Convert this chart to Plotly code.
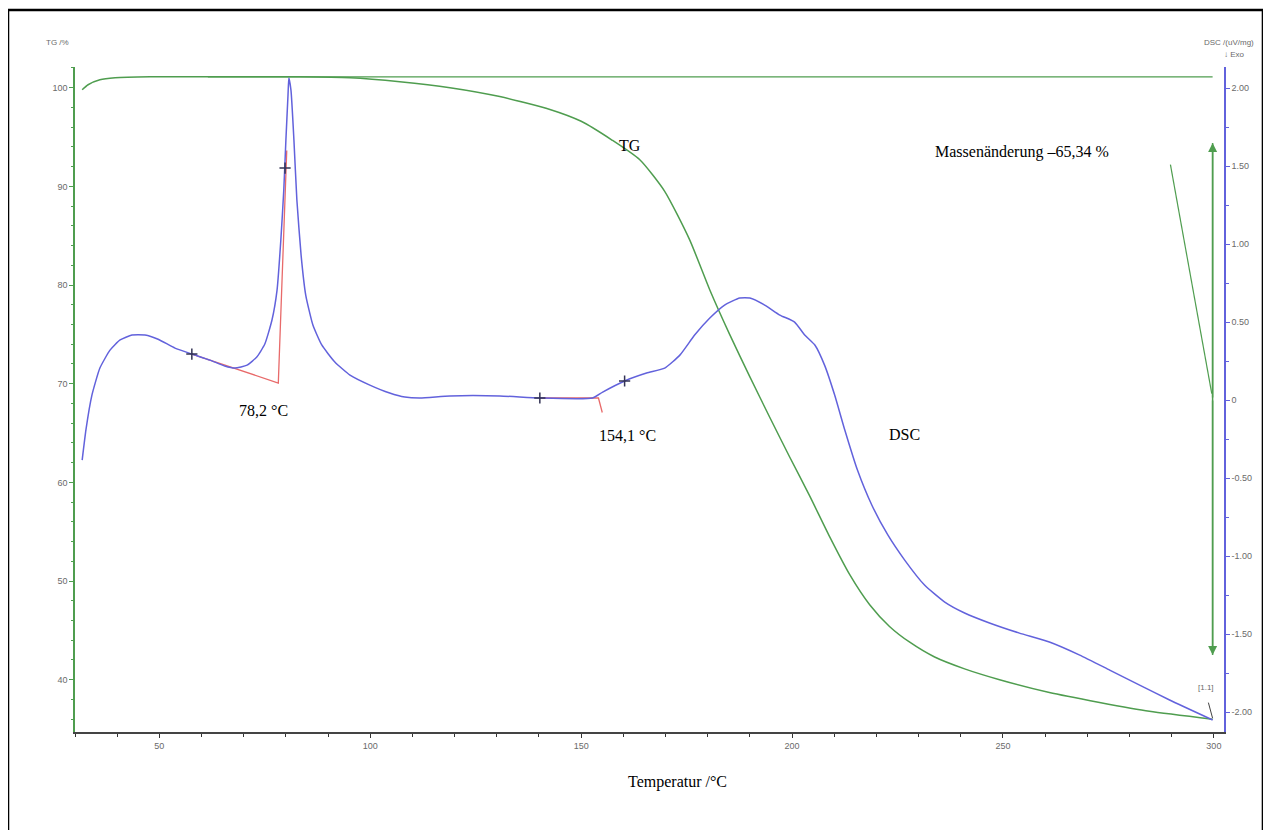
import plotly.graph_objects as go

# ---------------- data ----------------
tg_temp = [31.7, 33.1, 35.9, 39.5, 47.8, 60, 83.3, 95.2, 107.0, 118.9, 130.7, 142.6,
           150.0, 157.3, 163.9, 169.8, 175.7, 180.5, 185.2, 190.0, 194.7, 199.4,
           204.2, 208.9, 213.6, 218.4, 223.1, 227.9, 233.8, 240.9, 249.2, 261.0, 272.9,
           284.7, 299.7]
tg_mass = [99.8, 100.3, 100.8, 101.0, 101.1, 101.1, 101.1, 101.0, 100.6, 100.0, 99.1, 97.8,
           96.6, 94.7, 92.7, 89.5, 84.6, 79.5, 75.0, 70.7, 66.6, 62.6,
           58.6, 54.5, 50.7, 47.6, 45.4, 43.8, 42.3, 41.1, 40.0, 38.7, 37.7,
           36.8, 36.0]

dsc_temp = [31.7, 32.6, 34.0, 35.9, 38.3, 40.7, 43.5, 46.6, 49.7, 53.7, 57.7, 62.0, 65.5,
            67.9, 70.8, 73.1, 75.0, 76.7, 77.9, 78.8, 79.5, 80.0, 80.5, 80.7, 81.2, 81.9,
            82.6, 83.6, 84.7, 86.4, 88.5, 91.6, 95.2, 99.9, 104.6, 108.2, 111.8, 118.9,
            130.7, 140.2, 152.7, 155.1, 160.3, 165.5, 169.8, 173.4, 176.9, 180.5, 184.0,
            187.6, 190.0, 193.5, 197.1, 200.6, 203.0, 205.4, 207.7, 210.1, 212.5, 215.5,
            218.9, 222.7, 226.7, 231.4, 236.2, 240.9, 246.8, 253.9, 261.0, 268.2, 275.3,
            282.4, 289.5, 299.7]
dsc_signal = [-0.385, -0.19, 0.03, 0.205, 0.32, 0.385, 0.417, 0.417, 0.39, 0.333, 0.295,
              0.256, 0.218, 0.205, 0.224, 0.276, 0.359, 0.513, 0.705, 1.026, 1.346, 1.667,
              1.955, 2.064, 1.987, 1.667, 1.282, 0.929, 0.673, 0.481, 0.353, 0.244, 0.160,
              0.096, 0.045, 0.019, 0.013, 0.026, 0.026, 0.013, 0.013, 0.051, 0.122, 0.173,
              0.205, 0.288, 0.417, 0.526, 0.609, 0.654, 0.654, 0.609, 0.545, 0.5, 0.417,
              0.353, 0.224, 0.032, -0.192, -0.449, -0.673, -0.865, -1.026, -1.186, -1.295,
              -1.365, -1.429, -1.494, -1.551, -1.635, -1.731, -1.827, -1.923, -2.051]

# onset constructions (red tangents)
onset1_temp = [57.7, 78.2, 80.2]
onset1_dsc = [0.295, 0.109, 1.60]
onset2_temp = [140.2, 154.1, 155.0]
onset2_dsc = [0.013, 0.013, -0.08]

marker_temp = [57.7, 79.8, 140.2, 160.3]
marker_dsc = [0.295, 1.487, 0.013, 0.122]

# mass-change construction
start_mass = 101.1
ref_line_temp = [61.5, 299.7]
leader_temp = [289.7, 299.5]
leader_mass = [92.2, 69.0]
arrow_temp = 299.7
arrow_top = 94.4
arrow_bottom = 42.5

x_ticks = [50, 100, 150, 200, 250, 300]
tg_ticks = [40, 50, 60, 70, 80, 90, 100]
dsc_ticks = [-2.0, -1.5, -1.0, -0.5, 0.0, 0.5, 1.0, 1.5, 2.0]
dsc_ticktext = ["-2.00", "-1.50", "-1.00", "-0.50", "0", "0.50", "1.00", "1.50", "2.00"]

GREEN = "#4f9d4f"
BLUE = "#6262dc"
RED = "#e86a6a"
TICKC = "#6a6a6a"
SERIF = "Liberation Serif, Times New Roman, serif"
SANS = "Liberation Sans, Arial, sans-serif"

fig = go.Figure()

fig.add_trace(go.Scatter(x=ref_line_temp, y=[start_mass, start_mass], mode="lines",
                         line=dict(color=GREEN, width=1.2), yaxis="y", hoverinfo="skip"))
fig.add_trace(go.Scatter(x=tg_temp, y=tg_mass, mode="lines", line=dict(color=GREEN, width=1.5, shape="spline", smoothing=0.6),
                         yaxis="y", name="TG"))
fig.add_trace(go.Scatter(x=leader_temp, y=leader_mass, mode="lines",
                         line=dict(color=GREEN, width=1.2), yaxis="y", hoverinfo="skip"))
fig.add_trace(go.Scatter(x=[arrow_temp, arrow_temp], y=[arrow_top, arrow_bottom], mode="lines",
                         line=dict(color=GREEN, width=1.5), yaxis="y", hoverinfo="skip"))

fig.add_trace(go.Scatter(x=onset1_temp, y=onset1_dsc, mode="lines", line=dict(color=RED, width=1.3),
                         yaxis="y2", hoverinfo="skip"))
fig.add_trace(go.Scatter(x=onset2_temp, y=onset2_dsc, mode="lines", line=dict(color=RED, width=1.3),
                         yaxis="y2", hoverinfo="skip"))
fig.add_trace(go.Scatter(x=dsc_temp, y=dsc_signal, mode="lines", line=dict(color=BLUE, width=1.5, shape="spline", smoothing=0.5),
                         yaxis="y2", name="DSC"))
fig.add_trace(go.Scatter(x=marker_temp, y=marker_dsc, mode="markers",
                         marker=dict(symbol="cross-thin", size=8, line=dict(color="#333355", width=1.5)),
                         yaxis="y2", hoverinfo="skip"))

ann = []
def txt(x, y, s, size=16, font=SERIF, color="black", xref="x", yref="y2", xanchor="center", yanchor="middle"):
    ann.append(dict(x=x, y=y, xref=xref, yref=yref, text=s, showarrow=False,
                    font=dict(family=font, size=size, color=color), xanchor=xanchor, yanchor=yanchor))

txt(161.5, 1.635, "TG")
txt(226.7, -0.224, "DSC")
txt(74.8, -0.064, "78,2 °C")
txt(161.0, -0.23, "154,1 °C")
txt(0.524, -0.075, "Temperatur /°C", xref="paper", yref="paper")
txt(254.4, 1.59, "Massenänderung –65,34 %")
txt(-0.015, 1.037, "TG /%", size=8, font=SANS, color=TICKC, xref="paper", yref="paper")
txt(1.004, 1.037, "DSC /(uV/mg)", size=8, font=SANS, color=TICKC, xref="paper", yref="paper")
txt(1.009, 1.019, "↓ Exo", size=8, font=SANS, color=TICKC, xref="paper", yref="paper")
txt(298.2, -1.84, "[1.1]", size=8, font=SANS, color=TICKC)

# arrow heads for the mass change arrow
for head, tail in [(arrow_top, (arrow_top + arrow_bottom) / 2), (arrow_bottom, (arrow_top + arrow_bottom) / 2)]:
    ann.append(dict(x=arrow_temp, y=head, ax=arrow_temp, ay=tail, xref="x", yref="y",
                    axref="x", ayref="y", showarrow=True, arrowhead=2, arrowsize=1.2,
                    arrowwidth=1.5, arrowcolor=GREEN, text=""))
# small pointer for [1.1]
ann.append(dict(x=299.7, y=-2.04, ax=298.6, ay=-1.93, xref="x", yref="y2", axref="x", ayref="y2",
                showarrow=True, arrowhead=0, arrowwidth=1, arrowcolor="#444444", text=""))

fig.update_layout(
    width=1263, height=822,
    margin=dict(l=67, r=47, t=59, b=98),
    paper_bgcolor="white", plot_bgcolor="white",
    showlegend=False,
    annotations=ann,
    xaxis=dict(range=[30, 302.4], tickvals=x_ticks, ticks="outside", ticklen=4, tickcolor="#333",
               showline=True, linecolor="#444", linewidth=1.5, showgrid=False, zeroline=False,
               tickfont=dict(family=SANS, size=9, color=TICKC),
               minor=dict(dtick=10, tick0=30, ticks="outside", ticklen=3, tickcolor="#333")),
    yaxis=dict(range=[34.7, 102.1], tickvals=tg_ticks, ticks="outside", ticklen=4, tickcolor=GREEN,
               showline=True, linecolor=GREEN, linewidth=1.5, showgrid=False, zeroline=False,
               tickfont=dict(family=SANS, size=9, color=TICKC),
               minor=dict(dtick=2, tick0=40, ticks="outside", ticklen=2, tickcolor=GREEN)),
    yaxis2=dict(range=[-2.128, 2.135], overlaying="y", side="right", tickvals=dsc_ticks,
                ticktext=dsc_ticktext, ticks="outside", ticklen=4, tickcolor=BLUE,
                showline=True, linecolor=BLUE, linewidth=1.5, showgrid=False, zeroline=False,
                tickfont=dict(family=SANS, size=9, color=TICKC),
                minor=dict(dtick=0.25, tick0=0, ticks="outside", ticklen=3, tickcolor=BLUE)),
    shapes=[dict(type="rect", xref="paper", yref="paper", x0=-0.0583, x1=1.0339, y0=-0.16, y1=1.0857,
                 line=dict(color="black", width=2.5), fillcolor="rgba(0,0,0,0)", layer="above")],
)

fig.write_html("out.html")
